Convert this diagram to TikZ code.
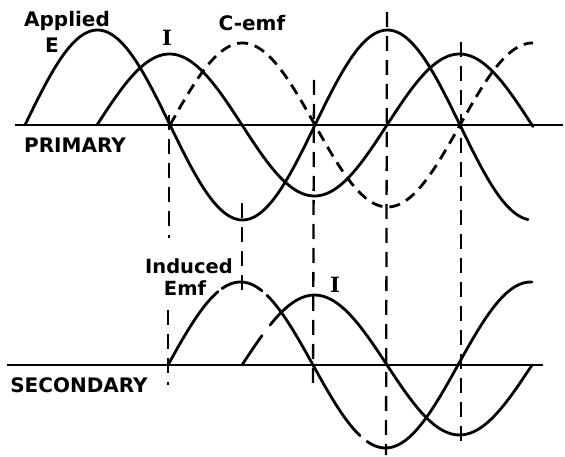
\documentclass[tikz,border=0pt]{standalone}
\usepackage{fontspec}
\newfontfamily\lbl{DejaVu Sans}
\newfontfamily\ifnt{DejaVu Serif}
\begin{document}
\begin{tikzpicture}[x=1pt,y=-1pt,
  curve/.style={line width=2.8pt, line cap=round},
  cdash/.style={line width=2.8pt, dash pattern=on 11pt off 7pt},
  vdash/.style={line width=2.3pt, dash pattern=on 15pt off 9pt},
  axis/.style={line width=2.4pt},
  lab/.style={font=\lbl\bfseries\fontsize{20}{20}\selectfont, inner sep=0pt, anchor=base},
  slab/.style={font=\lbl\bfseries\fontsize{19.5}{19.5}\selectfont, inner sep=0pt, anchor=base},
  ilab/.style={font=\ifnt\bfseries\fontsize{21}{21}\selectfont, inner sep=0pt, anchor=base}]
\useasboundingbox (0,0) rectangle (565,457);

% axes
\coordinate (p0) at (15,125); \coordinate (p1) at (563,125);
\coordinate (s0) at (7,365);  \coordinate (s1) at (543,365);
\draw[axis] (p0) -- (p1);
\draw[axis] (s0) -- (s1);

% primary curves
\draw[curve] plot[domain=25:528,samples=140] (\x,{125-95*sin((\x-25)/145*180)});
\draw[curve] plot[domain=97:533,samples=140] (\x,{125-71*sin((\x-97)/145*180)});
\draw[cdash] plot[domain=170:533,samples=140] (\x,{125-82*sin((\x-170)/145*180)});

% secondary induced emf
\foreach \a/\b in {168/218,222/262,267/360,367/532}
  \draw[curve] plot[domain=\a:\b,samples=40] (\x,{365-83*sin((\x-168)/145*180)});
% secondary current
\foreach \a/\b in {242/262,270/532}
  \draw[curve] plot[domain=\a:\b,samples=60] (\x,{365-70*sin((\x-242)/145*180)});

% vertical dashed lines
\coordinate (v1a) at (169,115); \coordinate (v1b) at (169,238);
\coordinate (v1c) at (168,310); \coordinate (v1d) at (168,385);
\coordinate (v2a) at (242,203); \coordinate (v2b) at (242,293);
\coordinate (v3a) at (314,80);  \coordinate (v3b) at (313,387);
\coordinate (v4a) at (387,12);  \coordinate (v4b) at (386,455);
\coordinate (v5a) at (461,42);  \coordinate (v5b) at (461,447);
\draw[vdash] (v1a) -- (v1b);
\draw[vdash] (v1c) -- (v1d);
\draw[vdash] (v2a) -- (v2b);
\draw[vdash] (v3a) -- (v3b);
\draw[vdash] (v4a) -- (v4b);
\draw[vdash] (v5a) -- (v5b);

% labels
\node[lab] (applied) at (67,27) {Applied};
\node[lab] (e) at (52,53) {E};
\node[ilab] (ip) at (167,46) {I};
\node[lab] (cemf) at (252,31) {C-emf};
\node[lab] (prim) at (75,153) {PRIMARY};
\node[lab] (sec) at (79,392) {SECONDARY};
\node[slab] (ind) at (189,273) {Induced};
\node[slab] (emf) at (185,295) {Emf};
\node[ilab] (is) at (335,292) {I};
\end{tikzpicture}
\end{document}
